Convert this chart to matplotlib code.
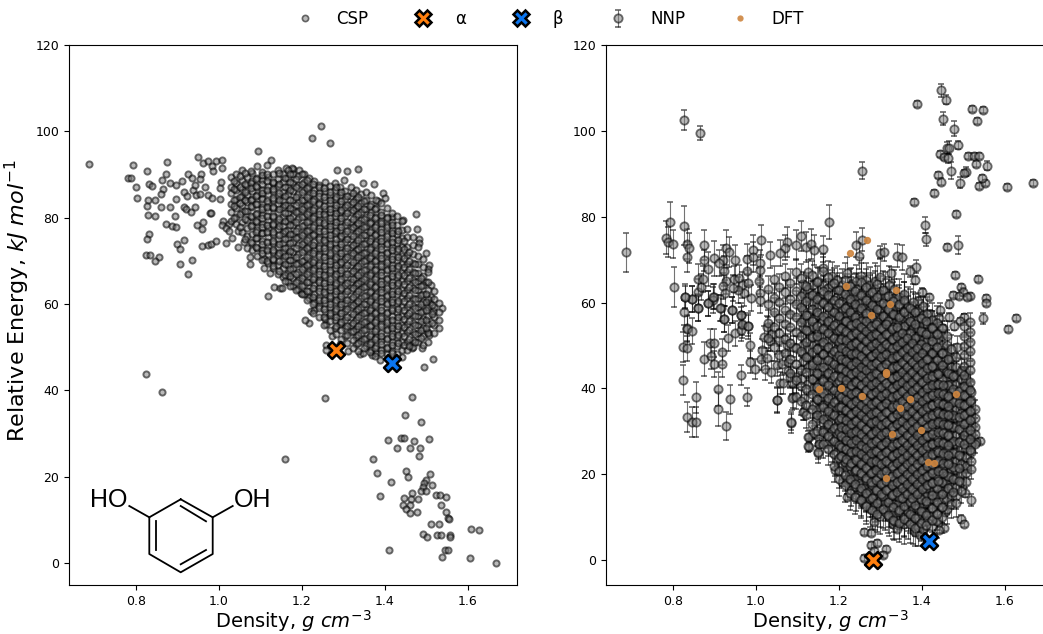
#! /usr/bin/env python
"""
    CSP vs NNP landscape of resorcinol: relative energy against density
"""
import numpy as np
import matplotlib
matplotlib.use("Agg")
import matplotlib.pyplot as plt
from matplotlib.lines import Line2D

WIDTH, HEIGHT = 1043, 634

# left panel, scattered structures
csp_density = [
    .688, .794, .781, .787, .800, .803, .826, .831, .838, .830, .845, .826, .860, .830, .845,
    .874, .873, .862, .883, .866, .861, .897, .910, .925, .935, .917, .923, .937, .897, .882,
    .915, .922, .933, .942, .894, .873, .886, .897, .832, .826, .917, .898, .907, .825, .835,
    .855, .847, .907, .936, .925, .948, .961, .960, .960, .974, .982, .994, 1.017, .950, .961,
    .975, .992, 1.008, .983, .987, 1.007, .956, .954, .943, .966, .944, .954, .974, .984, 1.004,
    1.005, 1.003, .978, .981, 1.009, 1.007, 1.024, 1.018, 1.024, 1.032, 1.047, 1.046, 1.060, 1.076, 1.076,
    1.110, 1.108, 1.124, 1.119, 1.134, 1.148, 1.095, 1.126, 1.093, 1.117, 1.162, 1.178, 1.2475, 1.225, 1.268,
    1.176, 1.193, 1.285, 1.310, 1.336, 1.301, 1.348, 1.374, 1.396, 1.401, 1.384, 1.475, 1.444, 1.417, 1.477,
    1.483, 1.482, 1.499, 1.506, 1.505, 1.500, 1.513, 1.513, 1.510, 1.538, 1.516, 1.505, 1.508, 1.491, 1.516,
    1.496, 1.466, 1.443, 1.218, 1.207, 1.222, 1.259, 1.332, 1.312, 1.340, 1.348, 1.370, 1.390, 1.273, 1.259,
    1.259, 1.292, 1.199, 1.153, .864, 1.255, 1.159, 1.465, 1.449, 1.487, 1.407, 1.439, 1.447, 1.471, 1.506,
    1.429, 1.461, 1.486, 1.483, 1.372, 1.381, 1.451, 1.457, 1.509, 1.416, 1.499, 1.495, 1.515, 1.492, 1.487,
    1.499, 1.465, 1.523, 1.533, 1.549, 1.389, 1.447, 1.464, 1.480, 1.445, 1.460, 1.535, 1.451, 1.460, 1.478,
    1.549, 1.554, 1.556, 1.511, 1.530, 1.608, 1.627, 1.492, 1.503, 1.526, 1.536, 1.557, 1.557, 1.410, 1.546,
    1.554, 1.538, 1.606, 1.669, .824,
]
csp_energy = [
    92.4, 92.3, 89.2, 89.3, 87.1, 84.5, 90.8, 87.8, 87.3, 84.2, 84.0, 82.7, 82.5, 80.7, 80.4,
    92.9, 90.2, 88.7, 88.1, 86.6, 85.5, 87.6, 88.4, 90.2, 89.1, 86.0, 85.1, 86.3, 84.3, 82.4,
    82.5, 81.9, 81.4, 82.4, 80.5, 78.5, 78.1, 77.9, 76.3, 75.0, 74.9, 73.9, 72.7, 71.3, 71.4,
    71.0, 70.0, 69.3, 70.1, 66.9, 78.3, 79.1, 77.3, 73.4, 73.6, 74.0, 74.5, 74.2, 94.1, 92.7,
    93.2, 93.1, 93.3, 92.0, 90.9, 91.4, 90.1, 88.9, 87.6, 87.2, 85.2, 85.4, 85.2, 84.6, 86.8,
    88.3, 84.4, 81.0, 81.0, 79.3, 78.4, 78.6, 77.5, 76.8, 75.4, 77.0, 73.3, 74.4, 71.0, 69.3,
    70.4, 68.3, 67.2, 61.9, 63.9, 63.6, 95.4, 93.4, 92.0, 92.2, 91.6, 91.2, 101.3, 98.4, 97.4,
    91.6, 91.0, 91.0, 90.8, 91.3, 88.7, 88.0, 87.7, 85.8, 84.5, 83.9, 80.8, 79.5, 80.1, 77.4,
    75.0, 74.2, 71.9, 69.0, 68.1, 65.0, 64.4, 61.7, 60.2, 59.1, 58.4, 53.6, 52.8, 49.9, 47.3,
    45.5, 49.7, 47.8, 55.7, 56.3, 58.3, 55.4, 50.7, 49.1, 48.4, 48.6, 48.2, 47.0, 52.6, 50.5,
    49.3, 50.7, 62.6, 63.6, 39.5, 38.2, 24.0, 38.4, 34.3, 32.7, 28.4, 28.9, 28.9, 28.2, 28.7,
    26.6, 26.6, 26.7, 24.9, 24.2, 20.8, 21.3, 20.0, 20.6, 18.7, 19.2, 18.5, 18.1, 17.5, 16.7,
    16.7, 16.2, 15.8, 15.8, 15.4, 15.6, 15.1, 14.8, 14.9, 13.5, 13.4, 13.4, 12.4, 11.5, 11.9,
    11.7, 10.4, 10.1, 9.1, 9.0, 7.9, 7.6, 6.6, 6.0, 6.5, 6.4, 6.5, 6.1, 2.9, 2.9,
    2.9, 1.3, 1.2, 0.0, 43.7,
]

# left panel, the dense cloud: one density per column and the energies read along it
csp_cloud_density = [1.030, 1.042, 1.055, 1.068, 1.080, 1.092, 1.105, 1.118, 1.130, 1.142, 1.155,
                     1.168, 1.180, 1.192, 1.205, 1.218, 1.230, 1.242, 1.255, 1.268, 1.280, 1.292,
                     1.305, 1.318, 1.330, 1.342, 1.355, 1.368, 1.380, 1.392, 1.405, 1.418, 1.430,
                     1.442, 1.455, 1.468, 1.480, 1.492, 1.505, 1.518, 1.530,
                     1.036, 1.050, 1.063, 1.077, 1.090, 1.104, 1.117, 1.131, 1.145, 1.159, 1.172,
                     1.186, 1.200, 1.213, 1.227, 1.241, 1.254, 1.268, 1.282, 1.295, 1.309, 1.323,
                     1.336, 1.350, 1.364, 1.377, 1.391, 1.405, 1.418, 1.432, 1.446, 1.459, 1.473,
                     1.487, 1.500, 1.514]
csp_cloud_energy = [
    [89.5, 87.2, 85.6, 83.1, 81.4, 79.3],
    [90.2, 88.1, 86.3, 84.4, 82.2, 80.1, 78.5],
    [91.0, 88.8, 86.7, 85.1, 83.0, 81.2, 79.0, 76.6],
    [89.4, 87.5, 85.3, 83.6, 81.6, 79.4, 77.5, 75.8, 73.0],
    [90.3, 88.4, 86.1, 84.3, 82.5, 80.2, 78.4, 76.1, 74.2, 72.4],
    [89.1, 87.0, 85.2, 83.2, 81.0, 79.1, 77.2, 75.3, 73.0, 71.1],
    [90.6, 88.7, 86.5, 84.6, 82.4, 80.6, 78.6, 76.4, 74.5, 72.6, 70.3],
    [89.5, 87.4, 85.5, 83.4, 81.5, 79.4, 77.5, 75.6, 73.4, 71.5, 69.4],
    [90.0, 88.1, 86.2, 84.0, 82.2, 80.1, 78.2, 76.1, 74.2, 72.1, 70.2, 68.3],
    [91.0, 89.0, 87.3, 85.0, 83.1, 81.4, 79.0, 77.3, 75.0, 73.1, 71.4, 69.0, 67.0],
    [90.0, 88.2, 86.0, 84.1, 82.4, 80.2, 78.1, 76.4, 74.2, 72.0, 70.1, 68.3, 66.2],
    [91.1, 89.3, 87.1, 85.4, 83.0, 81.1, 79.3, 77.1, 75.4, 73.2, 71.3, 69.1, 67.2, 65.0],
    [90.2, 88.0, 86.1, 84.2, 82.1, 80.3, 78.2, 76.1, 74.3, 72.1, 70.2, 68.4, 66.0, 64.1],
    [89.6, 87.6, 85.5, 83.6, 81.5, 79.6, 77.5, 75.6, 73.6, 71.5, 69.6, 67.5, 65.6, 63.5],
    [90.0, 88.3, 86.4, 84.2, 82.5, 80.4, 78.3, 76.5, 74.3, 72.4, 70.3, 68.5, 66.4, 64.3, 62.4],
    [89.1, 87.2, 85.3, 83.2, 81.3, 79.3, 77.1, 75.4, 73.2, 71.3, 69.2, 67.3, 65.2, 63.1, 61.3],
    [88.4, 86.3, 84.4, 82.3, 80.4, 78.4, 76.3, 74.4, 72.4, 70.3, 68.4, 66.2, 64.4, 62.3, 60.4, 58.6],
    [87.6, 85.6, 83.5, 81.5, 79.5, 77.5, 75.6, 73.5, 71.6, 69.5, 67.6, 65.5, 63.6, 61.5, 59.5],
    [88.2, 86.1, 84.2, 82.1, 80.3, 78.2, 76.1, 74.3, 72.2, 70.3, 68.1, 66.3, 64.1, 62.2, 60.3, 58.2, 56.6],
    [87.3, 85.3, 83.3, 81.4, 79.2, 77.4, 75.3, 73.4, 71.3, 69.3, 67.3, 65.2, 63.3, 61.4, 59.2, 57.4],
    [88.1, 86.4, 84.4, 82.3, 80.4, 78.3, 76.4, 74.2, 72.4, 70.4, 68.4, 66.4, 64.3, 62.3, 60.4, 58.3, 56.4, 54.5],
    [87.0, 85.2, 83.2, 81.2, 79.3, 77.2, 75.2, 73.3, 71.2, 69.2, 67.2, 65.3, 63.2, 61.2, 59.3, 57.2, 55.3],
    [86.2, 84.3, 82.4, 80.3, 78.4, 76.3, 74.4, 72.3, 70.4, 68.3, 66.3, 64.4, 62.4, 60.3, 58.4, 56.3, 54.4, 52.6],
    [87.1, 85.0, 83.1, 81.2, 79.1, 77.3, 75.1, 73.2, 71.3, 69.1, 67.2, 65.1, 63.2, 61.1, 59.2, 57.1, 55.2, 53.4],
    [86.3, 84.4, 82.2, 80.4, 78.2, 76.4, 74.2, 72.4, 70.2, 68.4, 66.1, 64.3, 62.3, 60.2, 58.3, 56.2, 54.3, 52.3],
    [85.4, 83.5, 81.3, 79.4, 77.3, 75.4, 73.3, 71.3, 69.4, 67.3, 65.3, 63.4, 61.3, 59.3, 57.4, 55.3, 53.3, 51.4],
    [86.0, 84.1, 82.1, 80.1, 78.1, 76.0, 74.1, 72.1, 70.1, 68.0, 66.2, 64.1, 62.1, 60.1, 58.1, 56.0, 54.2, 52.1, 50.2],
    [85.2, 83.2, 81.2, 79.1, 77.2, 75.2, 73.1, 71.2, 69.2, 67.2, 65.1, 63.1, 61.2, 59.1, 57.2, 55.2, 53.1, 51.2, 49.3],
    [84.1, 82.3, 80.2, 78.3, 76.2, 74.3, 72.2, 70.3, 68.2, 66.3, 64.2, 62.2, 60.3, 58.2, 56.3, 54.2, 52.3, 50.2, 48.6],
    [83.3, 81.4, 79.3, 77.4, 75.3, 73.4, 71.3, 69.3, 67.4, 65.3, 63.4, 61.3, 59.4, 57.3, 55.4, 53.3, 51.4, 49.4],
    [82.2, 80.2, 78.2, 76.1, 74.2, 72.1, 70.2, 68.2, 66.1, 64.2, 62.1, 60.2, 58.1, 56.2, 54.1, 52.2, 50.1, 48.3],
    [81.0, 79.1, 77.1, 75.2, 73.1, 71.2, 69.1, 67.1, 65.2, 63.1, 61.2, 59.1, 57.2, 55.1, 53.2, 51.1, 49.2],
    [80.3, 78.2, 76.3, 74.2, 72.3, 70.2, 68.3, 66.2, 64.3, 62.2, 60.3, 58.2, 56.3, 54.2, 52.3, 50.2, 48.4],
    [79.2, 77.1, 75.2, 73.3, 71.2, 69.3, 67.1, 65.3, 63.2, 61.3, 59.2, 57.3, 55.1, 53.3, 51.2, 49.3],
    [77.4, 75.5, 73.3, 71.4, 69.3, 67.4, 65.4, 63.3, 61.4, 59.3, 57.4, 55.3, 53.4, 51.3, 49.4],
    [75.6, 73.6, 71.5, 69.6, 67.5, 65.5, 63.6, 61.5, 59.6, 57.5, 55.6, 53.5, 51.6, 50.0],
    [73.2, 71.2, 69.3, 67.2, 65.3, 63.2, 61.3, 59.2, 57.3, 55.2, 53.3, 51.2],
    [70.4, 68.5, 66.4, 64.5, 62.4, 60.5, 58.4, 56.5, 54.4, 52.5, 50.6],
    [67.3, 65.2, 63.3, 61.2, 59.3, 57.2, 55.3, 53.2, 51.3],
    [63.1, 61.2, 59.2, 57.1, 55.2, 53.3],
    [60.3, 58.2, 56.3, 54.4],
    # second pass through the same cloud
    [88.4, 86.7, 84.1, 82.6, 80.0],
    [89.6, 87.1, 84.9, 83.4, 80.9, 77.8],
    [90.4, 87.9, 85.9, 84.2, 81.6, 79.7, 75.1],
    [90.9, 88.1, 86.8, 84.0, 82.6, 80.3, 78.1, 74.4],
    [88.9, 87.4, 85.0, 83.1, 80.9, 79.3, 76.7, 75.2, 73.1],
    [89.8, 87.9, 85.8, 84.4, 82.0, 79.9, 77.9, 76.5, 74.0, 71.9],
    [90.2, 88.6, 86.3, 83.9, 82.4, 80.5, 78.2, 76.7, 74.4, 72.5, 69.9],
    [88.3, 86.7, 84.6, 82.5, 80.3, 78.6, 76.6, 74.5, 72.4, 70.4, 68.7],
    [90.4, 87.8, 85.6, 84.1, 81.9, 79.8, 78.0, 75.9, 73.8, 71.9, 70.0, 67.6],
    [89.1, 87.1, 85.1, 83.0, 81.0, 79.3, 77.0, 75.1, 73.0, 71.1, 69.3, 66.8, 65.3],
    [90.1, 88.2, 86.3, 84.2, 82.2, 80.0, 78.4, 76.2, 74.1, 72.3, 70.2, 68.1, 66.4, 64.1],
    [88.9, 87.0, 84.9, 82.9, 81.2, 78.9, 77.0, 75.3, 72.9, 71.0, 69.2, 67.0, 65.1, 63.2],
    [90.0, 87.9, 86.0, 84.1, 81.9, 80.1, 78.0, 75.9, 74.0, 72.1, 70.0, 68.1, 66.0, 64.1, 62.3],
    [88.7, 86.9, 84.8, 83.0, 80.8, 79.0, 76.8, 74.9, 73.0, 70.9, 69.0, 66.9, 65.0, 62.9, 61.0],
    [87.8, 85.7, 83.9, 81.7, 79.9, 77.8, 75.9, 73.7, 71.8, 69.7, 67.9, 65.8, 63.8, 61.7, 59.9, 57.9],
    [87.1, 85.0, 83.1, 80.9, 79.1, 77.0, 75.0, 72.9, 71.1, 69.0, 66.9, 65.1, 62.9, 61.0, 59.1, 57.0],
    [86.9, 84.9, 82.8, 80.9, 78.7, 76.9, 74.8, 72.9, 70.8, 68.9, 66.8, 64.9, 62.8, 60.9, 58.8, 56.9, 55.1],
    [86.0, 84.0, 81.9, 80.0, 78.0, 75.9, 74.0, 71.9, 70.0, 67.9, 65.9, 64.0, 61.9, 60.0, 57.9, 56.0, 53.9],
    [87.0, 84.9, 82.9, 81.0, 78.9, 76.9, 75.0, 72.9, 70.9, 69.0, 66.9, 64.9, 63.0, 60.9, 58.9, 57.0, 54.9, 53.1],
    [85.9, 83.9, 81.8, 79.9, 77.9, 75.8, 73.9, 71.9, 69.8, 67.9, 65.9, 63.8, 61.9, 59.9, 57.8, 55.9, 53.9, 52.0],
    [85.0, 82.9, 81.0, 78.9, 76.9, 75.0, 72.9, 70.9, 69.0, 66.9, 64.9, 63.0, 60.9, 58.9, 57.0, 54.9, 52.9, 51.0],
    [85.7, 83.7, 81.8, 79.7, 77.8, 75.7, 73.7, 71.8, 69.7, 67.7, 65.8, 63.7, 61.7, 59.8, 57.7, 55.7, 53.8, 51.7, 49.9],
    [84.8, 82.8, 80.9, 78.8, 76.8, 74.9, 72.8, 70.8, 68.9, 66.8, 64.8, 62.9, 60.8, 58.8, 56.9, 54.8, 52.8, 50.9, 49.1],
    [83.9, 81.9, 79.8, 77.9, 75.9, 73.8, 71.9, 69.9, 67.8, 65.9, 63.9, 61.8, 59.9, 57.9, 55.8, 53.9, 51.9, 49.8],
    [82.7, 80.7, 78.8, 76.7, 74.7, 72.8, 70.7, 68.7, 66.8, 64.7, 62.7, 60.8, 58.7, 56.7, 54.8, 52.7, 50.7, 48.8],
    [81.9, 79.9, 77.8, 75.9, 73.9, 71.8, 69.9, 67.9, 65.8, 63.9, 61.9, 59.8, 57.9, 55.9, 53.8, 51.9, 49.9, 47.9],
    [80.7, 78.8, 76.7, 74.7, 72.8, 70.7, 68.7, 66.8, 64.7, 62.7, 60.8, 58.7, 56.7, 54.8, 52.7, 50.7, 48.7],
    [79.9, 77.9, 75.8, 73.9, 71.9, 69.8, 67.9, 65.9, 63.8, 61.9, 59.9, 57.8, 55.9, 53.9, 51.8, 49.9],
    [78.4, 76.5, 74.4, 72.4, 70.5, 68.4, 66.4, 64.5, 62.4, 60.4, 58.5, 56.4, 54.4, 52.5, 50.4, 48.6],
    [76.9, 74.9, 72.8, 70.9, 68.9, 66.8, 64.9, 62.9, 60.8, 58.9, 56.9, 54.8, 52.9, 50.9],
    [74.6, 72.7, 70.6, 68.6, 66.7, 64.6, 62.6, 60.7, 58.6, 56.6, 54.7, 52.6, 50.6],
    [72.1, 70.0, 68.1, 66.0, 64.0, 62.1, 60.0, 58.0, 56.1, 54.0, 52.0, 50.2],
    [69.2, 67.2, 65.1, 63.2, 61.2, 59.1, 57.2, 55.2, 53.1, 51.2],
    [66.0, 64.1, 62.1, 60.0, 58.1, 56.1, 54.0, 52.1],
    [62.4, 60.4, 58.5, 56.4, 54.5],
    [59.7, 57.7, 55.6],
]

# right panel, scattered structures with their error bars
nnp_density = [
    .688, .826, .865, .794, .783, .789, .801, .827, .833, .839, .833, .803, .830, .845, .827,
    .834, .860, .861, .867, .861, .873, .874, .874, .885, .898, .898, .896, .884, .915, .923,
    .943, .964, .966, .981, .989, .920, .928, .936, .912, .923, .929, .920, .925, .947, .960,
    .950, .966, .981, .971, .958, .945, .978, .978, .992, .993, 1.013, 1.011, 1.010, 1.008, 1.011,
    1.010, 1.035, 1.076, 1.098, 1.110, 1.122, 1.132, 1.141, 1.161, 1.176, 1.070, 1.058, 1.447, 1.458, 1.389,
    1.522, 1.549, 1.534, 1.451, 1.478, 1.487, 1.461, 1.467, 1.445, 1.453, 1.463, 1.512, 1.526, 1.538, 1.531,
    1.557, 1.472, 1.506, 1.502, 1.439, 1.447, 1.492, 1.538, 1.554, 1.546, 1.606, 1.669, 1.429, 1.381, 1.256,
    1.484, 1.408, 1.411, 1.462, 1.487, 1.256, 1.242, 1.248, 1.299, 1.310, 1.341, 1.352, 1.386, 1.372, 1.384,
    1.325, 1.480, 1.535, 1.495, 1.500, 1.476, 1.490, 1.517, 1.510, 1.555, 1.556, 1.465, 1.445, 1.417, 1.419,
    1.443, 1.466, 1.502, 1.493, 1.549, 1.627, 1.477, 1.451, 1.608, 1.430, 1.401, 1.391, 1.397, 1.284, 1.262,
    1.279, 1.277, 1.292, 1.313, 1.308, 1.260, 1.284, 1.331, 1.349, 1.341, 1.384, 1.396, 1.435, 1.455, 1.443,
    1.496, 1.501, 1.518, 1.504, 1.457, 1.219, 1.208, 1.219, 1.191, 1.259, 1.263, 1.292, 1.279, 1.256, 1.267,
    1.128, 1.128, 1.151, 1.153, 1.084, 1.051, 1.116, 1.090, 1.508, 1.485, 1.540, 1.532, 1.517, 1.511, 1.512,
    1.505, 1.494, 1.478, 1.509, .825, .855, .834, .846, .855, .927, .908, .909, .937, .979, .964,
    1.051, 1.084, 1.115, .825, .833, .833, .846, .875, .892, .900, .919, .919, .889, .900, .933,
    .950, .964, .966, .981, .964, .923, .943, .914, .884, .897, .860, .845, .829, .986, .987,
    .997, 1.014, 1.013, 1.027, 1.021, 1.037, 1.051, 1.064, 1.077, 1.078, 1.058, 1.066, 1.087, 1.082, 1.096,
    1.110, 1.087, 1.096, 1.116, 1.145, 1.172, 1.126, 1.141, 1.153, 1.126, 1.153, 1.168, 1.150, 1.020, 1.027,
    1.040, 1.035, 1.056, 1.076, 1.090,
]
nnp_energy = [
    71.7, 102.6, 99.5, 78.8, 75.1, 74.1, 73.7, 77.9, 73.7, 72.8, 70.6, 63.6, 61.3, 60.8, 57.7,
    54.0, 58.7, 62.5, 63.6, 65.4, 65.5, 73.3, 69.8, 67.8, 70.3, 61.4, 60.6, 59.8, 58.7, 56.1,
    58.3, 57.0, 54.8, 54.6, 61.0, 69.9, 72.8, 71.7, 69.3, 67.4, 65.1, 63.9, 62.3, 65.5, 65.7,
    69.8, 64.1, 64.5, 62.2, 62.9, 63.4, 70.1, 67.4, 72.3, 70.7, 74.6, 69.2, 67.6, 65.1, 62.2,
    60.6, 71.1, 74.1, 73.4, 75.5, 73.0, 73.7, 72.3, 72.5, 78.8, 72.8, 71.5, 109.5, 107.3, 106.3,
    105.2, 104.9, 102.3, 102.8, 100.5, 96.7, 96.0, 96.1, 94.6, 93.9, 93.6, 94.1, 94.2, 94.2, 92.2,
    91.9, 90.7, 90.5, 90.1, 89.7, 88.2, 87.9, 87.2, 87.9, 88.9, 87.0, 87.8, 85.5, 83.4, 90.7,
    80.7, 78.0, 74.7, 72.9, 73.4, 74.6, 73.5, 70.9, 71.6, 71.7, 70.9, 70.5, 68.3, 67.3, 65.3,
    66.8, 66.4, 65.5, 63.6, 62.5, 61.7, 61.5, 61.6, 61.2, 61.1, 60.0, 59.7, 58.3, 61.3, 57.3,
    56.5, 56.6, 56.7, 55.8, 56.3, 56.5, 54.6, 54.1, 53.8, 54.4, 62.5, 60.4, 56.7, 8.9, 6.5,
    6.2, 3.5, 4.0, 2.6, 1.3, 0.5, 2.2, 8.5, 8.7, 7.2, 6.5, 5.8, 9.1, 7.4, 7.0,
    9.6, 8.4, 14.0, 15.7, 11.2, 14.8, 18.3, 17.9, 21.0, 13.4, 14.4, 12.0, 15.2, 17.6, 17.8,
    26.4, 28.7, 25.0, 27.0, 32.0, 37.3, 34.7, 37.9, 21.4, 49.6, 27.7, 27.6, 27.6, 31.0, 40.4,
    43.9, 43.9, 42.6, 34.2, 41.9, 37.9, 33.4, 32.2, 32.2, 31.2, 35.2, 39.9, 37.5, 38.0, 43.1,
    37.3, 32.1, 34.6, 49.6, 49.3, 53.8, 53.4, 46.8, 47.6, 45.7, 45.7, 48.4, 50.5, 50.5, 51.7,
    52.8, 53.5, 54.9, 54.6, 57.0, 56.2, 58.3, 58.7, 59.8, 61.4, 58.8, 60.8, 61.4, 50.0, 46.2,
    44.5, 48.9, 46.9, 47.0, 44.5, 43.8, 45.4, 45.7, 46.2, 44.1, 41.3, 41.2, 41.2, 42.6, 42.6,
    42.1, 37.8, 38.0, 37.8, 32.3, 31.5, 28.6, 29.7, 28.4, 26.6, 27.0, 27.8, 25.1, 52.0, 54.4,
    52.7, 51.1, 51.3, 50.1, 49.7,
]
nnp_error = [
    4.5, 2.3, 1.7, 4.6, 3.9, 3.5, 3.3, 4.6, 3.5, 3.5, 3.5, 4.6, 2.5, 3.0, 3.0,
    3.0, 3.0, 3.0, 3.0, 3.5, 3.0, 3.5, 2.5, 4.0, 4.0, 3.0, 3.0, 3.0, 3.0, 3.0,
    3.0, 3.0, 3.0, 3.0, 3.0, 3.5, 4.0, 3.5, 3.0, 3.5, 3.0, 3.0, 3.0, 3.0, 3.0,
    3.5, 3.0, 3.0, 3.0, 3.0, 3.0, 3.5, 3.5, 3.5, 3.5, 3.5, 3.0, 3.0, 3.0, 3.0,
    3.0, 3.0, 3.5, 3.5, 3.5, 3.5, 3.5, 3.5, 3.0, 4.0, 3.0, 3.0, 1.5, 1.0, 0.7,
    0.7, 0.7, 0.7, 1.5, 1.8, 1.0, 1.5, 1.5, 0.7, 0.7, 1.0, 0.7, 0.7, 0.7, 0.7,
    1.0, 2.0, 1.0, 0.7, 0.7, 0.7, 1.3, 0.7, 0.7, 0.7, 0.7, 0.7, 0.7, 0.7, 2.0,
    0.7, 1.9, 1.6, 0.7, 2.2, 2.7, 3.0, 3.0, 1.5, 2.0, 2.7, 3.0, 1.5, 1.3, 1.0,
    1.5, 0.7, 0.7, 0.7, 1.0, 0.7, 0.7, 0.7, 0.7, 0.7, 0.7, 1.0, 1.5, 0.7, 1.0,
    1.0, 1.0, 0.7, 0.7, 1.3, 0.7, 1.0, 0.7, 0.7, 0.7, 1.0, 1.0, 1.2, 0.7, 0.7,
    0.7, 0.7, 0.7, 0.7, 0.7, 0.7, 0.7, 1.0, 0.7, 0.7, 0.7, 0.7, 0.7, 0.7, 0.7,
    1.0, 0.7, 1.5, 1.0, 1.0, 0.7, 1.0, 0.7, 1.5, 0.7, 0.7, 0.7, 0.7, 1.0, 1.0,
    1.0, 1.5, 2.3, 1.5, 2.5, 3.0, 2.0, 2.5, 1.0, 2.5, 0.7, 0.7, 0.7, 1.0, 1.0,
    1.0, 1.0, 1.0, 1.0, 3.5, 3.7, 3.5, 3.5, 3.5, 3.3, 4.0, 4.0, 3.4, 2.2, 2.3,
    2.7, 1.9, 2.0, 3.5, 3.0, 3.0, 3.0, 4.0, 3.0, 3.0, 3.0, 3.0, 3.3, 3.3, 3.0,
    3.0, 2.5, 2.5, 2.5, 2.0, 3.0, 3.0, 3.0, 3.0, 3.0, 3.0, 3.0, 3.0, 3.0, 2.5,
    2.3, 2.5, 2.5, 2.5, 2.5, 2.5, 2.5, 2.5, 2.5, 2.5, 2.5, 2.5, 2.5, 2.5, 2.5,
    2.5, 2.8, 2.8, 2.5, 2.0, 1.5, 1.5, 1.5, 1.5, 1.5, 1.5, 1.5, 1.5, 2.5, 2.5,
    2.5, 2.5, 2.5, 2.5, 2.5,
]

# right panel, the dense cloud
nnp_cloud_density = [1.115, 1.127, 1.138, 1.150, 1.161, 1.173, 1.184, 1.196, 1.207, 1.219, 1.230,
                     1.242, 1.253, 1.265, 1.276, 1.288, 1.299, 1.311, 1.322, 1.334, 1.345, 1.357,
                     1.368, 1.380, 1.391, 1.403, 1.414, 1.426, 1.437, 1.449, 1.460, 1.472, 1.483,
                     1.495, 1.506, 1.518, 1.529,
                     1.030, 1.043, 1.056, 1.070, 1.083, 1.096, 1.109, 1.122, 1.135, 1.148, 1.161,
                     1.175, 1.188, 1.201, 1.214, 1.227, 1.240, 1.253, 1.266, 1.280, 1.293, 1.306,
                     1.319, 1.332, 1.345, 1.358, 1.371, 1.385, 1.398, 1.411, 1.424, 1.437, 1.450,
                     1.463, 1.476, 1.490, 1.503, 1.516,
                     1.205, 1.217, 1.229, 1.241, 1.254, 1.266, 1.278, 1.291, 1.303, 1.315, 1.328,
                     1.340, 1.352, 1.365, 1.377, 1.389, 1.402, 1.414, 1.426, 1.439, 1.451, 1.463,
                     1.476, 1.488]
nnp_cloud_error = [2.8, 2.7, 3.0, 2.9, 3.2, 3.1, 3.4, 3.3, 3.6, 3.5, 3.8, 3.7, 4.0, 3.9, 4.2, 4.1,
                   4.3, 4.2, 4.4, 4.5, 4.3, 4.5, 4.4, 4.2, 4.3, 4.0, 4.1, 3.8, 3.9, 3.6, 3.5, 3.2,
                   3.2, 2.9, 2.7, 2.4, 2.0,
                   3.0, 3.2, 3.0, 2.8, 3.1, 2.9, 3.2, 3.0, 3.3, 3.5, 3.4, 3.7, 3.6, 3.9, 3.8, 4.1,
                   4.0, 4.2, 4.1, 4.4, 4.3, 4.5, 4.3, 4.5, 4.4, 4.2, 4.4, 4.1, 4.2, 3.9, 4.0, 3.6,
                   3.7, 3.3, 3.1, 2.9, 2.7, 2.2,
                   4.6, 4.8, 4.7, 5.0, 4.9, 5.2, 5.0, 5.3, 5.1, 5.4, 5.2, 5.4, 5.3, 5.2, 5.3, 5.1,
                   5.0, 5.1, 4.8, 4.7, 4.5, 4.3, 4.1, 3.8]
nnp_cloud_energy = [
    [64.3, 62.2, 58.3, 56.2, 54.1, 50.2, 48.1, 46.3],
    [67.1, 63.1, 61.2, 57.1, 55.2, 53.3, 49.2, 47.3, 45.1, 41.1],
    [64.0, 62.1, 60.2, 56.1, 54.2, 52.0, 50.1, 46.0, 44.1, 42.2, 40.0, 36.1],
    [65.1, 61.3, 59.1, 57.2, 53.1, 51.2, 49.3, 47.1, 45.2, 43.3, 41.1, 39.2, 37.3, 35.1],
    [68.1, 64.2, 62.0, 60.1, 56.0, 54.1, 52.2, 50.0, 48.1, 46.2, 44.0, 42.1, 40.2, 38.0, 36.1, 34.2, 32.0, 30.2],
    [63.3, 61.1, 59.2, 57.3, 55.1, 53.2, 51.3, 49.1, 47.2, 45.3, 43.1, 41.2, 39.3, 37.1, 35.2, 33.3, 31.1, 29.2, 27.3],
    [66.1, 64.1, 60.0, 58.1, 56.2, 54.0, 52.1, 50.2, 48.0, 46.1, 44.2, 42.0, 40.1, 38.2, 36.0, 34.1, 32.2, 30.0, 28.1, 26.2],
    [65.3, 63.0, 61.2, 59.3, 57.0, 55.2, 53.3, 51.0, 49.2, 47.3, 45.0, 43.2, 41.3, 39.0, 37.2, 35.3, 33.0, 31.2, 29.3, 27.0, 25.2, 23.3],
    [64.2, 62.1, 60.3, 58.2, 56.1, 54.3, 52.2, 50.1, 48.3, 46.2, 44.1, 42.3, 40.2, 38.1, 36.3, 34.2, 32.1, 30.3, 28.2, 26.1, 24.3, 22.2],
    [67.0, 63.2, 61.0, 59.1, 57.2, 55.0, 53.1, 51.2, 49.0, 47.1, 45.2, 43.0, 41.1, 39.2, 37.0, 35.1, 33.2, 31.0, 29.1, 27.2, 25.0, 23.1, 21.2, 19.0],
    [64.3, 62.2, 60.1, 58.3, 56.2, 54.1, 52.3, 50.2, 48.1, 46.3, 44.2, 42.1, 40.3, 38.2, 36.1, 34.3, 32.2, 30.1, 28.3, 26.2, 24.1, 22.3, 20.2, 18.1, 16.3],
    [65.0, 63.1, 61.2, 59.0, 57.1, 55.2, 53.0, 51.1, 49.2, 47.0, 45.1, 43.2, 41.0, 39.1, 37.2, 35.0, 33.1, 31.2, 29.0, 27.1, 25.2, 23.0, 21.1, 19.2, 17.0, 15.1],
    [66.3, 62.3, 60.2, 58.1, 56.3, 54.2, 52.1, 50.3, 48.2, 46.1, 44.3, 42.2, 40.1, 38.3, 36.2, 34.1, 32.3, 30.2, 28.1, 26.3, 24.2, 22.1, 20.3, 18.2, 16.1, 14.3],
    [65.2, 63.0, 61.1, 59.2, 57.0, 55.1, 53.2, 51.0, 49.1, 47.2, 45.0, 43.1, 41.2, 39.0, 37.1, 35.2, 33.0, 31.1, 29.2, 27.0, 25.1, 23.2, 21.0, 19.1, 17.2, 15.0, 13.1],
    [64.0, 62.2, 60.0, 58.2, 56.0, 54.1, 52.3, 50.0, 48.2, 46.0, 44.1, 42.3, 40.0, 38.2, 36.0, 34.2, 32.0, 30.1, 28.3, 26.0, 24.2, 22.0, 20.2, 18.0, 16.1, 14.2, 12.0],
    [65.1, 63.2, 61.1, 59.3, 57.1, 55.2, 53.0, 51.2, 49.1, 47.2, 45.1, 43.3, 41.1, 39.2, 37.0, 35.2, 33.1, 31.2, 29.1, 27.3, 25.1, 23.2, 21.1, 19.3, 17.1, 15.2, 13.0, 11.2],
    [66.0, 62.0, 60.1, 58.3, 56.1, 54.2, 52.0, 50.1, 48.3, 46.1, 44.2, 42.0, 40.1, 38.3, 36.1, 34.2, 32.0, 30.2, 28.0, 26.1, 24.3, 22.1, 20.2, 18.0, 16.2, 14.0, 12.1, 10.3],
    [63.0, 61.2, 59.1, 57.2, 55.0, 53.1, 51.3, 49.0, 47.2, 45.0, 43.1, 41.3, 39.0, 37.2, 35.0, 33.2, 31.1, 29.2, 27.0, 25.2, 23.0, 21.2, 19.1, 17.2, 15.0, 13.2, 11.1],
    [64.1, 60.2, 58.0, 56.2, 54.1, 52.2, 50.0, 48.2, 46.1, 44.3, 42.2, 40.0, 38.2, 36.1, 34.2, 32.3, 30.0, 28.2, 26.1, 24.3, 22.2, 20.0, 18.2, 16.1, 14.3, 12.2, 10.0],
    [63.1, 61.0, 59.2, 57.0, 55.2, 53.0, 51.1, 49.3, 47.0, 45.2, 43.0, 41.1, 39.3, 37.0, 35.2, 33.0, 31.2, 29.0, 27.2, 25.0, 23.1, 21.3, 19.0, 17.2, 15.0, 13.1, 11.0, 9.2],
    [61.3, 59.1, 57.2, 55.3, 53.1, 51.2, 49.1, 47.2, 45.3, 43.1, 41.2, 39.1, 37.3, 35.1, 33.2, 31.1, 29.3, 27.1, 25.2, 23.3, 21.1, 19.2, 17.1, 15.3, 13.2, 11.3, 9.1],
    [62.1, 60.2, 58.0, 56.1, 54.2, 52.0, 50.1, 48.2, 46.0, 44.2, 42.0, 40.1, 38.2, 36.0, 34.2, 32.0, 30.1, 28.2, 26.0, 24.2, 22.0, 20.1, 18.2, 16.0, 14.2, 12.0, 10.1, 8.3],
    [59.2, 57.1, 55.3, 53.2, 51.1, 49.2, 47.1, 45.3, 43.1, 41.2, 39.1, 37.3, 35.2, 33.1, 31.2, 29.0, 27.2, 25.1, 23.3, 21.2, 19.1, 17.2, 15.1, 13.3, 11.1, 9.2],
    [60.1, 58.2, 56.0, 54.1, 52.2, 50.0, 48.1, 46.2, 44.0, 42.1, 40.2, 38.0, 36.1, 34.2, 32.0, 30.1, 28.2, 26.0, 24.1, 22.2, 20.0, 18.1, 16.2, 14.0, 12.1, 10.2, 8.0],
    [58.0, 56.2, 54.1, 52.3, 50.1, 48.2, 46.0, 44.2, 42.1, 40.3, 38.1, 36.2, 34.0, 32.2, 30.1, 28.3, 26.1, 24.2, 22.0, 20.2, 18.1, 16.3, 14.1, 12.2, 10.0, 7.6],
    [59.1, 57.2, 55.0, 53.1, 51.2, 49.0, 47.1, 45.2, 43.0, 41.1, 39.2, 37.0, 35.1, 33.2, 31.0, 29.1, 27.2, 25.0, 23.1, 21.2, 19.0, 17.1, 15.2, 13.0, 11.1, 9.2, 7.3],
    [57.3, 55.1, 53.2, 51.0, 49.2, 47.3, 45.1, 43.2, 41.0, 39.2, 37.3, 35.1, 33.2, 31.0, 29.2, 27.3, 25.1, 23.2, 21.0, 19.2, 17.3, 15.1, 13.2, 11.0, 9.2],
    [56.0, 54.2, 52.1, 50.3, 48.0, 46.2, 44.1, 42.3, 40.0, 38.2, 36.1, 34.3, 32.0, 30.2, 28.1, 26.3, 24.0, 22.2, 20.1, 18.3, 16.0, 14.2, 12.1, 10.3, 8.0],
    [55.2, 53.0, 51.2, 49.1, 47.0, 45.2, 43.1, 41.0, 39.2, 37.1, 35.0, 33.2, 31.1, 29.0, 27.2, 25.1, 23.0, 21.2, 19.1, 17.0, 15.2, 13.1, 11.0, 9.1],
    [54.0, 52.2, 50.0, 48.2, 46.1, 44.3, 42.0, 40.2, 38.1, 36.3, 34.0, 32.2, 30.1, 28.3, 26.0, 24.2, 22.1, 20.3, 18.0, 16.2, 14.1, 12.3, 10.0],
    [52.1, 50.0, 48.2, 46.0, 44.1, 42.2, 40.0, 38.2, 36.1, 34.0, 32.2, 30.1, 28.0, 26.2, 24.1, 22.0, 20.2, 18.1, 16.0, 14.2, 12.0],
    [49.2, 47.0, 45.1, 43.3, 41.0, 39.2, 37.1, 35.3, 33.0, 31.2, 29.1, 27.3, 25.0, 23.2, 21.1, 19.3, 17.0, 15.2, 13.1],
    [47.2, 45.0, 43.2, 41.1, 39.0, 37.2, 35.1, 33.0, 31.2, 29.1, 27.0, 25.2, 23.1, 21.0, 19.2, 17.1, 15.0, 13.2],
    [44.0, 42.2, 40.1, 38.3, 36.0, 34.2, 32.1, 30.3, 28.0, 26.2, 24.1, 22.3, 20.0, 18.2, 16.1],
    [42.1, 40.0, 38.2, 36.1, 34.0, 32.2, 30.1, 28.0, 26.2, 24.1, 22.0, 20.2, 18.1],
    [39.1, 37.3, 35.0, 33.2, 31.1, 29.3, 27.0, 25.2, 23.1, 21.3],
    [35.2, 33.0, 31.1, 29.3, 27.0],
    # second pass, reaching further into the sparse shoulder
    [63.2, 59.6, 55.3, 51.7],
    [65.4, 61.1, 57.8, 54.2, 49.6],
    [63.7, 60.2, 56.5, 52.9, 47.8],
    [66.1, 62.5, 58.3, 55.1, 51.4, 48.2],
    [64.6, 60.9, 57.4, 54.3, 50.6, 46.9, 43.5],
    [67.2, 62.8, 59.7, 56.6, 53.2, 49.4, 45.7, 41.9],
    [65.7, 61.6, 58.9, 55.4, 52.1, 48.7, 44.3, 40.6, 37.1],
    [63.9, 60.4, 57.2, 53.6, 50.7, 47.3, 43.9, 39.8, 36.2, 33.7],
    [66.4, 61.8, 58.6, 55.7, 51.9, 48.5, 45.4, 42.1, 38.7, 35.3, 31.8],
    [64.7, 60.9, 57.8, 54.6, 52.3, 49.2, 46.7, 43.6, 40.4, 37.6, 33.9, 30.1],
    [67.3, 62.7, 59.8, 56.9, 53.9, 50.8, 47.9, 44.9, 41.8, 38.9, 35.7, 32.8, 29.9, 27.1],
    [65.9, 61.7, 58.9, 55.6, 52.8, 49.7, 46.6, 43.7, 40.8, 37.7, 34.8, 31.7, 28.8, 25.8],
    [64.5, 60.7, 57.7, 54.8, 51.7, 48.8, 45.8, 42.8, 39.7, 36.8, 33.8, 30.8, 27.7, 24.8, 21.9],
    [62.9, 59.8, 56.8, 53.7, 50.8, 47.7, 44.8, 41.7, 38.8, 35.7, 32.7, 29.8, 26.7, 23.8, 20.7, 18.9],
    [65.3, 61.9, 58.8, 55.8, 52.9, 49.8, 46.9, 43.8, 40.9, 37.8, 34.9, 31.8, 28.9, 25.8, 22.9, 19.8, 17.4],
    [63.8, 60.8, 57.9, 54.8, 51.9, 48.8, 45.9, 42.8, 39.9, 36.8, 33.9, 30.8, 27.9, 24.8, 21.9, 18.8, 15.7],
    [62.7, 59.7, 56.7, 53.7, 50.7, 47.8, 44.7, 41.7, 38.7, 35.8, 32.7, 29.7, 26.7, 23.8, 20.7, 17.7, 14.8],
    [64.9, 61.8, 58.7, 55.8, 52.7, 49.9, 46.8, 43.9, 40.7, 37.9, 34.8, 31.9, 28.7, 25.9, 22.8, 19.9, 16.7, 13.9],
    [63.6, 60.6, 57.6, 54.6, 51.6, 48.6, 45.6, 42.6, 39.6, 36.6, 33.6, 30.6, 27.6, 24.6, 21.6, 18.6, 15.6, 12.6],
    [62.5, 59.5, 56.5, 53.5, 50.5, 47.5, 44.5, 41.5, 38.5, 35.5, 32.5, 29.5, 26.5, 23.5, 20.5, 17.5, 14.5, 11.7],
    [64.3, 61.4, 58.4, 55.4, 52.4, 49.4, 46.4, 43.4, 40.4, 37.4, 34.4, 31.4, 28.4, 25.4, 22.4, 19.4, 16.4, 13.4, 10.8],
    [62.9, 59.9, 56.9, 53.9, 50.9, 47.9, 44.9, 41.9, 38.9, 35.9, 32.9, 29.9, 26.9, 23.9, 20.9, 17.9, 14.9, 11.9],
    [61.6, 58.6, 55.6, 52.6, 49.6, 46.6, 43.6, 40.6, 37.6, 34.6, 31.6, 28.6, 25.6, 22.6, 19.6, 16.6, 13.6, 10.6],
    [60.4, 57.3, 54.4, 51.3, 48.4, 45.3, 42.4, 39.3, 36.4, 33.3, 30.4, 27.3, 24.4, 21.3, 18.4, 15.3, 12.4, 9.3],
    [59.6, 56.7, 53.7, 50.7, 47.6, 44.7, 41.7, 38.6, 35.7, 32.7, 29.6, 26.7, 23.7, 20.6, 17.7, 14.7, 11.6, 8.7],
    [60.6, 57.7, 54.6, 51.7, 48.7, 45.6, 42.7, 39.7, 36.6, 33.7, 30.7, 27.6, 24.7, 21.7, 18.6, 15.7, 12.7, 9.6],
    [58.7, 55.6, 52.8, 49.6, 46.8, 43.6, 40.8, 37.6, 34.8, 31.6, 28.8, 25.6, 22.8, 19.6, 16.8, 13.6, 10.8, 8.3],
    [57.8, 54.9, 51.8, 48.9, 45.8, 42.9, 39.8, 36.9, 33.8, 30.9, 27.8, 24.9, 21.8, 18.9, 15.8, 12.9, 9.8, 7.4],
    [56.4, 53.4, 50.3, 47.4, 44.3, 41.4, 38.3, 35.4, 32.3, 29.4, 26.3, 23.4, 20.3, 17.4, 14.3, 11.4, 8.6],
    [55.7, 52.7, 49.7, 46.6, 43.7, 40.7, 37.6, 34.7, 31.7, 28.6, 25.7, 22.7, 19.6, 16.7, 13.7, 10.6, 8.2],
    [54.1, 51.1, 48.2, 45.1, 42.2, 39.1, 36.2, 33.1, 30.2, 27.1, 24.2, 21.1, 18.2, 15.1, 12.2, 9.4],
    [52.6, 49.6, 46.7, 43.6, 40.7, 37.6, 34.7, 31.6, 28.7, 25.6, 22.7, 19.6, 16.7, 13.6, 10.7],
    [48.3, 45.4, 42.3, 39.4, 36.3, 33.4, 30.3, 27.4, 24.3, 21.4, 18.3, 15.4, 12.3],
    [46.8, 43.7, 40.8, 37.7, 34.8, 31.7, 28.8, 25.7, 22.8, 19.7, 16.8],
    [42.9, 39.8, 36.9, 33.8, 30.9, 27.8, 24.9, 21.8, 18.9, 15.8],
    [39.4, 36.5, 33.4, 30.5, 27.4, 24.5, 21.4, 18.5],
    # third pass through the darkest core, long bars overlap here
    [54.6, 52.1, 49.8, 47.7, 45.2, 43.1, 40.6, 38.4, 36.2, 33.9, 31.7, 29.2, 27.1],
    [55.4, 53.2, 50.7, 48.6, 46.1, 44.2, 41.5, 39.6, 37.1, 34.8, 32.7, 30.3, 28.1, 25.7],
    [54.1, 51.6, 49.4, 46.9, 44.7, 42.6, 40.1, 37.9, 35.6, 33.2, 31.1, 28.9, 26.4, 24.3],
    [55.8, 53.3, 51.2, 48.8, 46.5, 44.1, 41.9, 39.4, 37.3, 34.9, 32.6, 30.5, 28.0, 25.8, 23.6],
    [54.7, 52.4, 50.1, 47.9, 45.4, 43.3, 40.8, 38.7, 36.4, 34.1, 31.8, 29.6, 27.2, 25.1, 22.7],
    [55.2, 52.9, 50.6, 48.3, 46.2, 43.8, 41.6, 39.2, 37.0, 34.7, 32.4, 30.1, 27.9, 25.5, 23.4, 21.1],
    [54.3, 52.0, 49.7, 47.5, 45.1, 42.9, 40.7, 38.3, 36.1, 33.8, 31.5, 29.3, 26.9, 24.7, 22.5, 20.2],
    [55.6, 53.4, 51.0, 48.9, 46.4, 44.4, 41.8, 39.7, 37.4, 35.1, 32.9, 30.6, 28.2, 26.1, 23.7, 21.5, 19.2],
    [54.5, 52.2, 49.9, 47.6, 45.5, 43.0, 40.9, 38.6, 36.3, 34.0, 31.9, 29.4, 27.3, 24.9, 22.8, 20.4, 18.1],
    [55.1, 52.7, 50.5, 48.2, 46.0, 43.7, 41.4, 39.1, 36.9, 34.5, 32.3, 30.0, 27.7, 25.4, 23.2, 20.9, 18.6, 16.4],
    [54.0, 51.8, 49.5, 47.3, 44.9, 42.7, 40.4, 38.2, 35.9, 33.6, 31.4, 29.1, 26.8, 24.6, 22.3, 20.0, 17.8, 15.5],
    [54.9, 52.6, 50.3, 48.0, 45.8, 43.5, 41.2, 39.0, 36.7, 34.4, 32.2, 29.9, 27.6, 25.3, 23.1, 20.8, 18.5, 16.3],
    [53.8, 51.5, 49.3, 47.0, 44.7, 42.4, 40.2, 37.9, 35.6, 33.4, 31.0, 28.8, 26.5, 24.3, 22.0, 19.7, 17.5, 15.2],
    [54.4, 52.1, 49.8, 47.6, 45.3, 43.0, 40.8, 38.5, 36.2, 34.0, 31.7, 29.4, 27.2, 24.9, 22.6, 20.4, 18.1, 15.8],
    [52.9, 50.7, 48.4, 46.1, 43.9, 41.6, 39.3, 37.1, 34.8, 32.5, 30.3, 28.0, 25.7, 23.5, 21.2, 18.9, 16.7, 14.4],
    [51.8, 49.5, 47.3, 45.0, 42.7, 40.5, 38.2, 35.9, 33.7, 31.4, 29.1, 26.9, 24.6, 22.3, 20.1, 17.8, 15.5],
    [50.6, 48.4, 46.1, 43.8, 41.6, 39.3, 37.0, 34.8, 32.5, 30.2, 28.0, 25.7, 23.4, 21.2, 18.9, 16.6, 14.4],
    [49.5, 47.2, 44.9, 42.7, 40.4, 38.1, 35.9, 33.6, 31.3, 29.1, 26.8, 24.5, 22.3, 20.0, 17.7, 15.5],
    [48.3, 46.0, 43.8, 41.5, 39.2, 37.0, 34.7, 32.4, 30.2, 27.9, 25.6, 23.4, 21.1, 18.8, 16.6],
    [46.9, 44.7, 42.4, 40.1, 37.9, 35.6, 33.3, 31.1, 28.8, 26.5, 24.3, 22.0, 19.7, 17.5],
    [45.2, 42.9, 40.7, 38.4, 36.1, 33.9, 31.6, 29.3, 27.1, 24.8, 22.5, 20.3, 18.0],
    [43.4, 41.1, 38.9, 36.6, 34.3, 32.1, 29.8, 27.5, 25.3, 23.0, 20.7, 18.5],
    [40.8, 38.6, 36.3, 34.0, 31.8, 29.5, 27.2, 25.0, 22.7, 20.4],
    [38.2, 35.9, 33.7, 31.4, 29.1, 26.9, 24.6, 22.3],
]

# DFT reference energies
dft_density = [1.269, 1.226, 1.217, 1.337, 1.323, 1.277, 1.315, 1.315, 1.153, 1.205, 1.257, 1.373,
               1.347, 1.483, 1.329, 1.398, 1.415, 1.429, 1.314]
dft_energy = [74.5, 71.5, 63.9, 62.9, 59.6, 57.0, 43.9, 43.3, 39.9, 40.0, 38.3, 37.5,
              35.4, 38.7, 29.3, 30.2, 22.8, 22.6, 19.2]

# experimental forms: left panel, right panel
alpha_density = [1.283, 1.283]
alpha_energy = [49.3, 0.1]
beta_density = [1.417, 1.417]
beta_energy = [46.3, 4.4]

# resorcinol sketch, in figure pixels
ring_x = [180.7, 212.7, 212.7, 180.7, 149.3, 149.3, 180.7]
ring_y = [499.3, 517.3, 554.0, 572.3, 554.0, 517.3, 499.3]
bond_x = [[212.7, 232.7], [149.3, 129.3], [180.7, 206.0], [156.0, 156.0], [180.7, 206.0]]
bond_y = [[517.3, 506.0], [517.3, 506.0], [506.0, 521.3], [520.7, 550.0], [564.3, 550.0]]


def expand_columns(density, energy, extra=None):
    """turn the per column lists into flat arrays"""
    xx, yy, ee = [], [], []
    for ii, row in enumerate(energy):
        xx += [density[ii]] * len(row)
        yy += row
        if extra is not None:
            ee += [extra[ii]] * len(row)
    return np.array(xx), np.array(yy), np.array(ee)


def pixel_axes(fig, left, top, right, bottom):
    """axes placed by figure pixels, measured from the top left corner"""
    return fig.add_axes([left/WIDTH, 1.0 - bottom/HEIGHT, (right-left)/WIDTH, (bottom-top)/HEIGHT])


def style_axes(ax, ymin):
    ax.set_xlim(0.6386, 1.7193)
    ax.set_ylim(ymin, 120)
    ax.set_xticks([0.8, 1.0, 1.2, 1.4, 1.6])
    ax.set_yticks([0, 20, 40, 60, 80, 100, 120])
    ax.tick_params(labelsize=9)
    ax.set_xlabel(r'Density, $g\ cm^{-3}$', fontsize=14, labelpad=0.4)


def draw_forms(ax, ii):
    ax.scatter(alpha_density[ii], alpha_energy[ii], marker='X', s=150, c='#ff7f0e',
               edgecolors='k', linewidths=1.8, zorder=6)
    ax.scatter(beta_density[ii], beta_energy[ii], marker='X', s=150, c='#0a75f0',
               edgecolors='k', linewidths=1.8, zorder=6)


fig = plt.figure(figsize=(WIDTH/100, HEIGHT/100), dpi=100)
ax1 = pixel_axes(fig, 69, 45, 517, 585)
ax2 = pixel_axes(fig, 606, 45, 1054, 585)

# left panel
cx, cy, _ = expand_columns(csp_cloud_density, csp_cloud_energy)
ax1.scatter(np.r_[csp_density, cx], np.r_[csp_energy, cy], s=20, c='gray', edgecolors='k',
            linewidths=1.4, alpha=0.55)
draw_forms(ax1, 0)
style_axes(ax1, -5.1)
ax1.set_ylabel(r'Relative Energy, $kJ\ mol^{-1}$', fontsize=16)
ax1.yaxis.set_label_coords(-0.083, 0.528)

# right panel
nx, ny, ne = expand_columns(nnp_cloud_density, nnp_cloud_energy, nnp_cloud_error)
nnp = ax2.errorbar(np.r_[nnp_density, nx], np.r_[nnp_energy, ny], yerr=np.r_[nnp_error, ne],
                   fmt='o', ms=6, mfc='gray', mec='k', mew=1.3, ecolor='k', elinewidth=0.8,
                   capsize=2.5, alpha=0.55)
ax2.scatter(dft_density, dft_energy, s=18, c='peru', alpha=0.9, zorder=5)
draw_forms(ax2, 1)
style_axes(ax2, -5.8)

# molecule
mol = pixel_axes(fig, 0, 0, WIDTH, HEIGHT)
mol.set_xlim(0, WIDTH)
mol.set_ylim(HEIGHT, 0)
mol.axis('off')
mol.patch.set_alpha(0)
mol.plot(ring_x, ring_y, color='k', lw=1.3)
for bx, by in zip(bond_x, bond_y):
    mol.plot(bx, by, color='k', lw=1.3)
mol.text(108.7, 500, 'HO', fontsize=18, family='Liberation Sans', ha='center', va='center')
mol.text(252.5, 500, 'OH', fontsize=18, family='Liberation Sans', ha='center', va='center')

# legend
handles = [
    Line2D([], [], ls='', marker='o', ms=4.5, mfc='gray', mec='k', mew=1.2, alpha=0.55),
    Line2D([], [], ls='', marker='X', ms=12, mfc='#ff7f0e', mec='k', mew=1.8),
    Line2D([], [], ls='', marker='X', ms=12, mfc='#0a75f0', mec='k', mew=1.8),
    nnp,
    Line2D([], [], ls='', marker='o', ms=4.5, mfc='peru', mec='none', alpha=0.9),
]
labels = ['CSP', 'α', 'β', 'NNP', 'DFT']
fig.legend(handles, labels, loc='center', bbox_to_anchor=(546/WIDTH, 1.0 - 19/HEIGHT), ncol=5,
           frameon=False, fontsize=12, handletextpad=0.9, columnspacing=2.3)

plt.savefig('out.png', dpi=100)
